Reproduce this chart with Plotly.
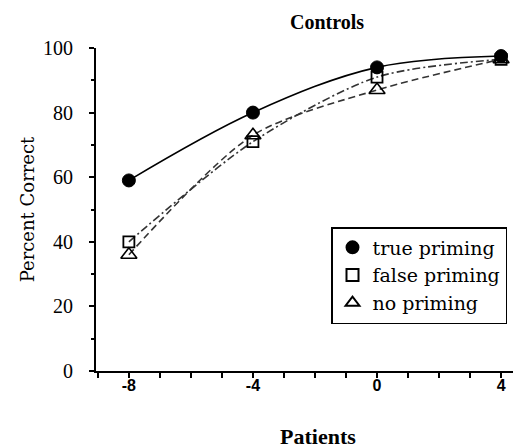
import plotly.graph_objects as go

x_vals = [-8, -4, 0, 4]
true_priming = [59, 80, 94, 97.5]
false_priming = [40, 71, 91, 96.5]
no_priming = [36, 73, 87, 96.5]
x_ticks = [-8, -4, 0, 4]
y_ticks = [0, 20, 40, 60, 80, 100]

serif = "Liberation Serif"
wide_serif = "DejaVu Serif"
fig = go.Figure()

# fitted-looking curves
fig.add_trace(go.Scatter(x=x_vals, y=true_priming, mode="lines", line=dict(color="black", width=1.6, shape="spline", smoothing=1.0), showlegend=False))
fig.add_trace(go.Scatter(x=x_vals, y=false_priming, mode="lines", line=dict(color="#333", width=1.6, dash="8px,3px,2px,3px", shape="spline", smoothing=0.8), showlegend=False))
fig.add_trace(go.Scatter(x=x_vals, y=no_priming, mode="lines", line=dict(color="#333", width=1.6, dash="7px,4px", shape="spline", smoothing=0.8), showlegend=False))

# markers
fig.add_trace(go.Scatter(x=x_vals, y=true_priming, mode="markers", name="true priming", cliponaxis=False,
                         marker=dict(symbol="circle", size=13, color="black", line=dict(color="black", width=1))))
fig.add_trace(go.Scatter(x=x_vals, y=false_priming, mode="markers", name="false priming", cliponaxis=False,
                         marker=dict(symbol="square-open", size=11, color="black", line=dict(width=1.8))))
fig.add_trace(go.Scatter(x=x_vals, y=no_priming, mode="markers", name="no priming", cliponaxis=False,
                         marker=dict(symbol="triangle-up-open", size=14, color="black", line=dict(width=1.6))))

fig.update_layout(
    width=521, height=448,
    margin=dict(l=88, r=0, t=40, b=85),
    paper_bgcolor="white", plot_bgcolor="white",
    showlegend=True,
    legend=dict(x=(323-88)/433, y=(363-219)/323, xanchor="left", yanchor="top",
                bordercolor="black", borderwidth=1.5, bgcolor="white",
                font=dict(family=wide_serif, size=19, color="black"),
                itemsizing="constant", tracegroupgap=0, itemwidth=30),
    xaxis=dict(range=[-9.06, 4.9], tickvals=x_ticks, ticktext=[str(v) for v in x_ticks],
               showgrid=False, zeroline=False, showline=True, linecolor="black", linewidth=2,
               ticks="outside", ticklen=5, tickwidth=2, tickcolor="black", ticklabelstandoff=-6,
               tickfont=dict(family="Liberation Sans", size=16, color="black", weight="bold"),
               minor=dict(dtick=1, tick0=0, ticks="outside", ticklen=5, tickwidth=2, tickcolor="black")),
    yaxis=dict(range=[0, 100], tickvals=y_ticks, showgrid=False, zeroline=False,
               showline=True, linecolor="black", linewidth=2,
               ticks="outside", ticklen=5, tickwidth=2, tickcolor="black", ticklabelstandoff=12,
               tickfont=dict(family=serif, size=20, color="black"),
               minor=dict(dtick=10, tick0=0, ticks="outside", ticklen=3, tickwidth=1.5, tickcolor="black"),
               title=dict(text="Percent Correct", font=dict(family=wide_serif, size=18, color="black"), standoff=4)),
)

fig.add_annotation(text="<b>Controls</b>", xref="paper", yref="paper", x=(319-88)/433, y=1, yanchor="middle",
                   yshift=26, showarrow=False, font=dict(family=serif, size=20, color="black"))
fig.add_annotation(text="<b>Patients</b>", xref="paper", yref="paper", x=(310-88)/433, y=0, yanchor="top",
                   yshift=-51, showarrow=False, font=dict(family=serif, size=22, color="black"))

fig.write_html("out.html")
